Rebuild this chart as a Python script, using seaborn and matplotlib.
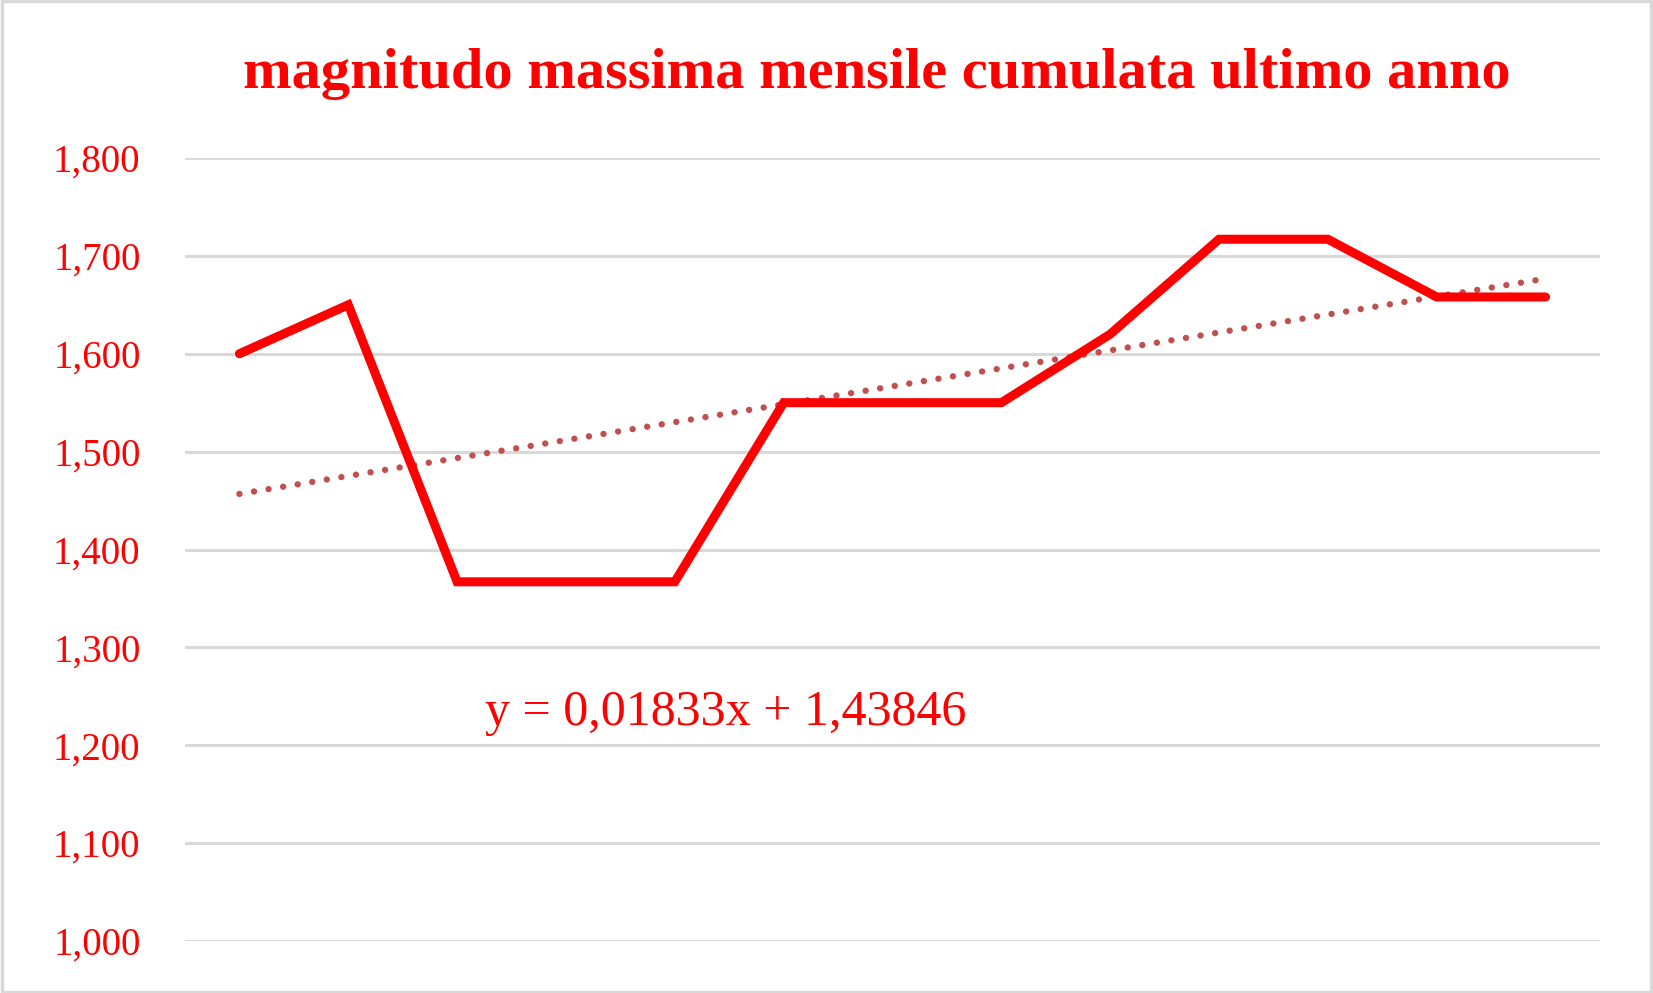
import numpy as np
import pandas as pd
import matplotlib
matplotlib.use("Agg")
import matplotlib.pyplot as plt
import seaborn as sns
from matplotlib.patches import Rectangle

# data
months = list(range(1, 14))
magnitudo = [1.600, 1.650, 1.367, 1.367, 1.367, 1.550, 1.550, 1.550,
             1.620, 1.717, 1.717, 1.658, 1.658]
y_ticks = [1.0, 1.1, 1.2, 1.3, 1.4, 1.5, 1.6, 1.7, 1.8]
trend_slope = 0.01833
trend_intercept = 1.43846
title = "magnitudo massima mensile cumulata ultimo anno"

red = "#FF0000"
trend_color = "#C0504D"
grid_color = "#D9D9D9"

sns.set_theme(style="white")
plt.rcParams['font.family'] = ['Liberation Serif', 'DejaVu Serif']

df = pd.DataFrame({"mese": months, "magnitudo": magnitudo})
df["trend"] = trend_slope * df["mese"] + trend_intercept

fig = plt.figure(figsize=(16.53, 9.93), dpi=100)
ax = fig.add_axes([185 / 1653, 1 - 941 / 993, (1600 - 185) / 1653, (941 - 158) / 993])

for t in y_ticks:
    ax.axhline(t, color=grid_color, lw=2.2, zorder=0)

sns.lineplot(data=df, x="mese", y="trend", ax=ax, color=trend_color,
             lw=4.6, linestyle=(0, (0.01, 2.3)), solid_capstyle="round",
             dash_capstyle="round", zorder=2)
sns.lineplot(data=df, x="mese", y="magnitudo", ax=ax, color=red, lw=6.5,
             solid_capstyle="round", solid_joinstyle="miter", zorder=3)

ax.set_xlim(0.5, 13.5)
ax.set_ylim(1.0, 1.8)
ax.set_yticks(y_ticks)
ax.set_yticklabels([f"{v:.3f}".replace(".", ",") for v in y_ticks])
ax.tick_params(axis="y", length=0, pad=32, labelsize=28, labelcolor=red)
ax.set_xticks([])
ax.set_xlabel("")
ax.set_ylabel("")
for s in ax.spines.values():
    s.set_visible(False)
ax.patch.set_alpha(0)

ax.text(5.47, 1.233, "y = 0,01833x + 1,43846", color=red, fontsize=36,
        ha="center", va="center")

fig.text(877 / 1653, 1 - 74 / 993, title, color=red, fontsize=42,
         fontweight="bold", ha="center", va="center")

fig.patches.append(Rectangle((0.001, 0.0015), 0.998, 0.997, transform=fig.transFigure,
                             fill=False, edgecolor=grid_color, lw=2.5))

fig.savefig("out.png", dpi=100)
